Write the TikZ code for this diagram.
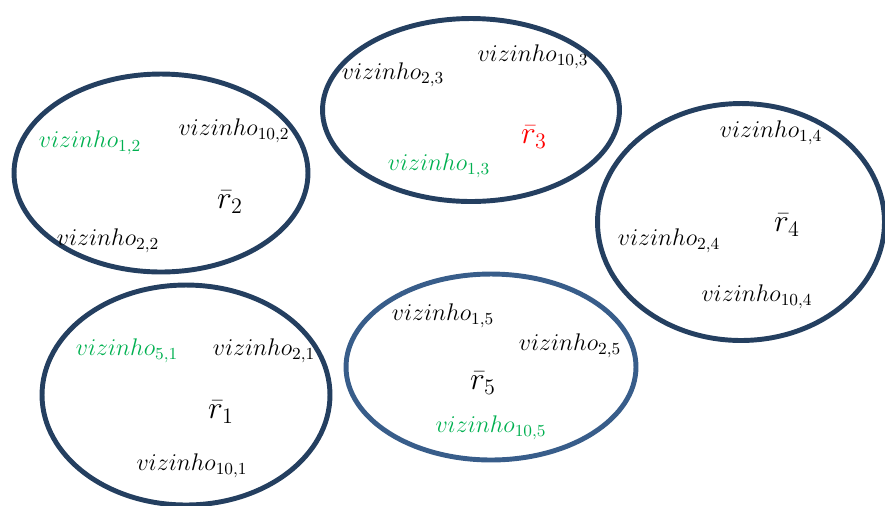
\documentclass[tikz,border=0pt]{standalone}
\usepackage{fix-cm}
\usepackage{amsmath}
\usetikzlibrary{shapes.geometric}
\definecolor{navy}{HTML}{243F60}
\definecolor{steel}{HTML}{385D8A}
\definecolor{vgreen}{HTML}{00B050}

\begin{document}
\begin{tikzpicture}[
        x=0.02cm, y=-0.02cm,
        font=\fontsize{13.7}{16}\selectfont,
        grupo/.style={ellipse, draw=navy, line width=2.8pt, inner sep=0pt},
        viz/.style={inner sep=0pt},
        media/.style={inner sep=0pt, font=\fontsize{18}{21}\selectfont}
    ]
    \useasboundingbox (0,0) rectangle (885,505);

    % grupos
    \node[grupo, minimum width=5.88cm, minimum height=3.96cm] (g2) at (161,173) {};
    \node[grupo, minimum width=5.94cm, minimum height=3.66cm] (g3) at (471,110) {};
    \node[grupo, minimum width=5.74cm, minimum height=4.74cm] (g4) at (741,222) {};
    \node[grupo, minimum width=5.76cm, minimum height=4.40cm] (g1) at (186,395) {};
    \node[grupo, draw=steel, minimum width=5.80cm, minimum height=3.72cm] (g5) at (491,367) {};

    % grupo 2
    \node[viz, text=vgreen] (v12) at (90,143) {$vizinho_{1,2}$};
    \node[viz] (v102) at (234,131) {$vizinho_{10,2}$};
    \node[media] (r2) at (230,202) {$\bar{r}_2$};
    \node[viz] (v22) at (108,241) {$vizinho_{2,2}$};

    % grupo 3
    \node[viz] (v23) at (393,75) {$vizinho_{2,3}$};
    \node[viz] (v103) at (533,57) {$vizinho_{10,3}$};
    \node[media, text=red] (r3) at (534,137) {$\bar{r}_3$};
    \node[viz, text=vgreen] (v13) at (439,166) {$vizinho_{1,3}$};

    % grupo 4
    \node[viz] (v14) at (771,133) {$vizinho_{1,4}$};
    \node[media] (r4) at (787,225) {$\bar{r}_4$};
    \node[viz] (v24) at (669,241) {$vizinho_{2,4}$};
    \node[viz] (v104) at (757,297) {$vizinho_{10,4}$};

    % grupo 1
    \node[viz, text=vgreen] (v51) at (127,351) {$vizinho_{5,1}$};
    \node[viz] (v21) at (264,351) {$vizinho_{2,1}$};
    \node[media] (r1) at (221,412) {$\bar{r}_1$};
    \node[viz] (v101) at (192,466) {$vizinho_{10,1}$};

    % grupo 5
    \node[viz] (v15) at (443,316) {$vizinho_{1,5}$};
    \node[viz] (v25) at (570,346) {$vizinho_{2,5}$};
    \node[media] (r5) at (483,383) {$\bar{r}_5$};
    \node[viz, text=vgreen] (v105) at (491,428) {$vizinho_{10,5}$};
\end{tikzpicture}
\end{document}
